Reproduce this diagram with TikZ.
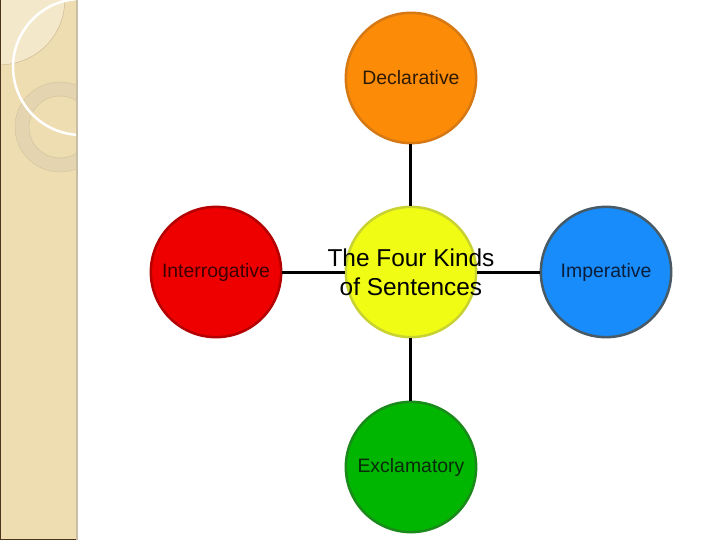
\documentclass[tikz,border=0pt]{standalone}
\usepackage{fontspec}
\setmainfont{Liberation Sans}
\definecolor{strip}{RGB}{239,221,178}
\definecolor{stripLight}{RGB}{244,232,202}
\definecolor{stripEdge}{RGB}{196,178,140}
\definecolor{stripBorder}{RGB}{200,190,166}
\definecolor{ringFill}{RGB}{228,213,176}
\definecolor{ringEdge}{RGB}{208,192,156}
\definecolor{declFill}{RGB}{252,140,8}
\definecolor{declEdge}{RGB}{214,120,20}
\definecolor{declText}{RGB}{45,26,5}
\definecolor{interFill}{RGB}{238,0,0}
\definecolor{interEdge}{RGB}{180,0,0}
\definecolor{interText}{RGB}{60,0,0}
\definecolor{coreFill}{RGB}{240,252,20}
\definecolor{coreEdge}{RGB}{200,210,50}
\definecolor{impFill}{RGB}{24,140,250}
\definecolor{impEdge}{RGB}{72,90,102}
\definecolor{impText}{RGB}{10,30,60}
\definecolor{exclFill}{RGB}{0,182,0}
\definecolor{exclEdge}{RGB}{26,138,26}
\definecolor{exclText}{RGB}{10,42,10}
\begin{document}
\begin{tikzpicture}[x=1in,y=1in,
  outline/.style={draw=#1,line width=2.5bp},
  kind/.style={circle,minimum size=1.81in,inner sep=0pt,font=\fontsize{19.5}{23}\selectfont},
  link/.style={line width=3bp}]
\useasboundingbox (0,0) rectangle (10,7.5);
% left strip of the slide
\begin{scope}
\clip (0,0) rectangle (1.056,7.5);
\fill[strip] (0,0) rectangle (1.056,7.5);
\fill[fill=stripLight,draw=stripEdge,thin] (0,7.5) circle (0.9);
\fill[fill=ringFill,draw=ringEdge,thin,even odd rule] (0.833,5.736) circle (0.625) (0.833,5.736) circle (0.43);
\draw[white,line width=2.5bp] (1.125,6.57) circle (0.944);
\end{scope}
\draw[stripBorder,line width=2.5bp] (1.072,0) -- (1.072,7.5);
\draw[black!60!brown,line width=1.2bp] (0.008,0) -- (0.008,7.5);
\draw[black!60!brown,line width=1.5bp] (0,0.01) -- (1.056,0.01);
% the five circles
\node[kind,fill=coreFill,outline=coreEdge] (core) at (5.708,3.722) {};
\node[align=center,font=\fontsize{24.5}{29.5}\selectfont] (title) at (core) {The Four Kinds\\of Sentences};
\node[kind,fill=declFill,outline=declEdge,text=declText] (decl) at (5.708,6.417) {Declarative};
\node[kind,fill=interFill,outline=interEdge,text=interText] (inter) at (3.0,3.722) {Interrogative};
\node[kind,fill=impFill,outline=impEdge,text=impText] (imp) at (8.417,3.722) {Imperative};
\node[kind,fill=exclFill,outline=exclEdge,text=exclText] (excl) at (5.708,1.014) {Exclamatory};
% links from the middle
\draw[link] (decl) -- (core);
\draw[link] (core) -- (excl);
\draw[link] (inter) -- (core);
\draw[link] (core) -- (imp);
\end{tikzpicture}
\end{document}
